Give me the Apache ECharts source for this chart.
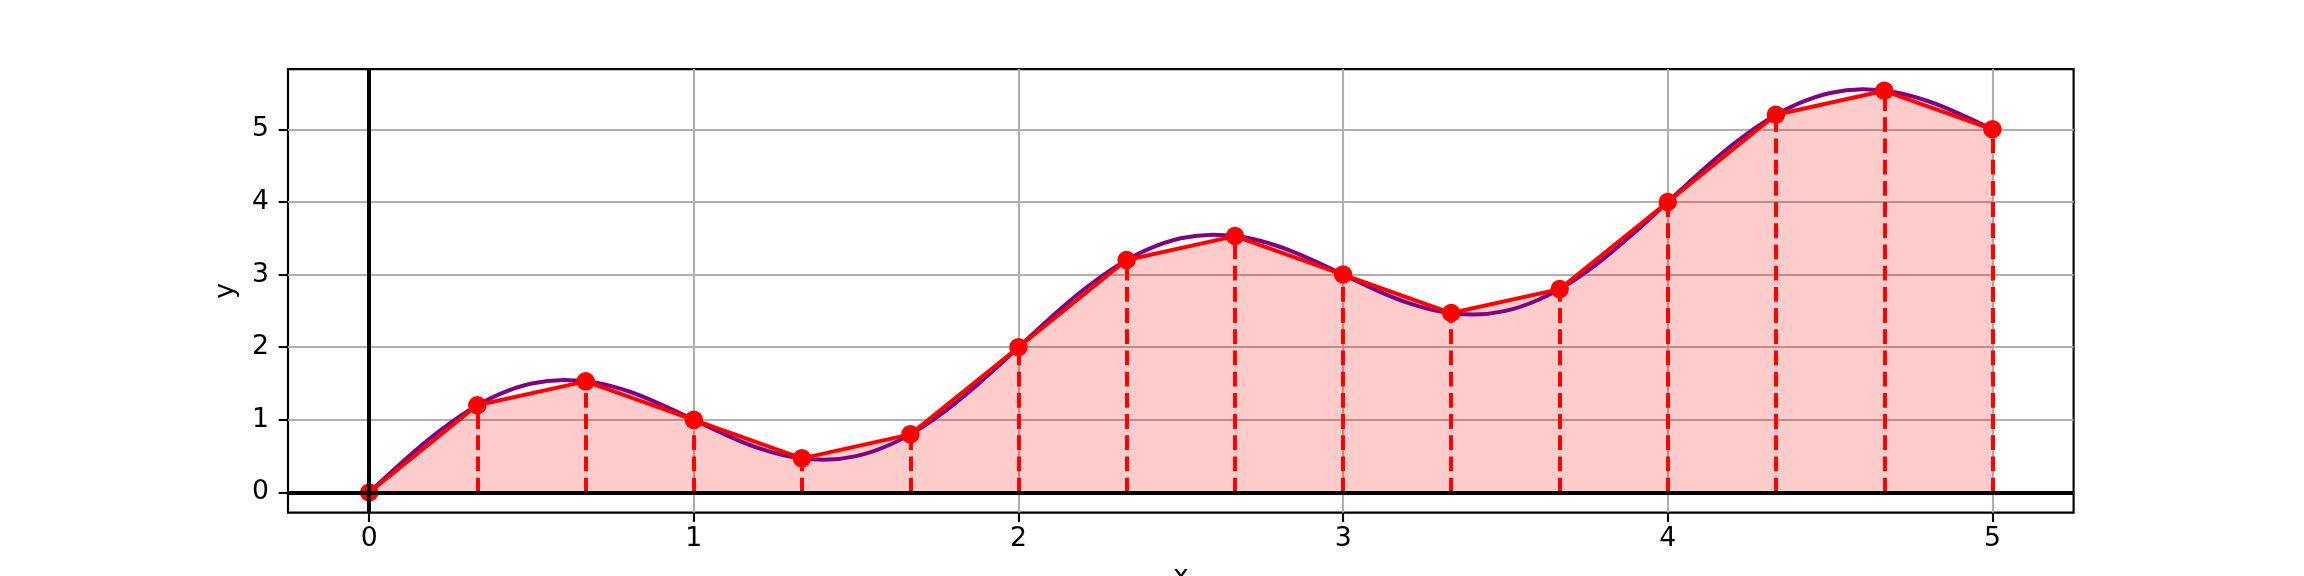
<!DOCTYPE html>
<html>
<head>
<meta charset="utf-8">
<script src="https://cdn.jsdelivr.net/npm/echarts@6/dist/echarts.min.js"></script>
<style>
html,body{margin:0;padding:0;background:#fff;}
#chart{width:2304px;height:576px;}
</style>
</head>
<body>
<div id="chart"></div>
<script>
// Sample points (red markers)
const sampleX = [0, 0.333, 0.667, 1, 1.333, 1.667, 2, 2.333, 2.667, 3, 3.333, 3.667, 4, 4.333, 4.667, 5];
const sampleY = [0, 1.2, 1.53, 1.0, 0.47, 0.8, 2.0, 3.2, 3.53, 3.0, 2.47, 2.8, 4.0, 5.2, 5.53, 5.0];

// Smooth purple curve
const curveX = [0, 0.1, 0.2, 0.3, 0.4, 0.5, 0.6, 0.7, 0.8, 0.9,
  1, 1.1, 1.2, 1.3, 1.4, 1.5, 1.6, 1.7, 1.8, 1.9,
  2, 2.1, 2.2, 2.3, 2.4, 2.5, 2.6, 2.7, 2.8, 2.9,
  3, 3.1, 3.2, 3.3, 3.4, 3.5, 3.6, 3.7, 3.8, 3.9,
  4, 4.1, 4.2, 4.3, 4.4, 4.5, 4.6, 4.7, 4.8, 4.9, 5];
const curveY = [0, 0.41, 0.79, 1.11, 1.35, 1.5, 1.55, 1.51, 1.39, 1.21,
  1.0, 0.79, 0.61, 0.49, 0.45, 0.5, 0.65, 0.89, 1.21, 1.59,
  2.0, 2.41, 2.79, 3.11, 3.35, 3.5, 3.55, 3.51, 3.39, 3.21,
  3.0, 2.79, 2.61, 2.49, 2.45, 2.5, 2.65, 2.89, 3.21, 3.59,
  4.0, 4.41, 4.79, 5.11, 5.35, 5.5, 5.55, 5.51, 5.39, 5.21, 5.0];

const xTicks = [0, 1, 2, 3, 4, 5];
const yTicks = [0, 1, 2, 3, 4, 5];

const FONT = 'DejaVu Sans';
const FS = 26.67;
const LW = 4.0;
const THIN = 2.13;

const samplePts = sampleX.map((x, i) => [x, sampleY[i]]);
const curvePts = curveX.map((x, i) => [x, curveY[i]]);

const chart = echarts.init(document.getElementById('chart'), null, {renderer: 'canvas'});
chart.setOption({
  animation: false,
  backgroundColor: '#fff',
  grid: {
    left: 288, right: 230.4, top: 69.12, bottom: 63.36,
    containLabel: false, outerBoundsMode: 'none',
    show: true, borderColor: '#000', borderWidth: THIN, backgroundColor: 'transparent'
  },
  xAxis: {
    type: 'value', min: -0.25, max: 5.25,
    name: 'x', nameLocation: 'middle', nameGap: 51,
    nameTextStyle: {fontFamily: FONT, fontSize: FS, color: '#000'},
    axisLine: {show: false, onZero: false},
    axisTick: {show: true, customValues: xTicks, length: 9.33, lineStyle: {color: '#000', width: THIN}},
    axisLabel: {customValues: xTicks, fontFamily: FONT, fontSize: FS, color: '#000', margin: 13},
    splitLine: {show: true, lineStyle: {color: '#b0b0b0', width: THIN}}
  },
  yAxis: {
    type: 'value', min: -0.2776, max: 5.8287,
    name: 'y', nameLocation: 'middle', nameGap: 48,
    nameTextStyle: {fontFamily: FONT, fontSize: FS, color: '#000'},
    axisLine: {show: false, onZero: false},
    axisTick: {show: true, customValues: yTicks, length: 9.33, lineStyle: {color: '#000', width: THIN}},
    axisLabel: {customValues: yTicks, fontFamily: FONT, fontSize: FS, color: '#000', margin: 19},
    splitLine: {show: true, lineStyle: {color: '#b0b0b0', width: THIN}}
  },
  series: [
    {
      type: 'line', data: samplePts, z: 1, silent: true,
      showSymbol: false, symbol: 'none',
      lineStyle: {width: 0, opacity: 0},
      areaStyle: {color: 'rgba(255,0,0,0.2)', opacity: 1, origin: 0}
    },
    {
      type: 'line', data: curvePts, z: 2, silent: true,
      showSymbol: false, symbol: 'none', smooth: 0.4,
      lineStyle: {color: '#800080', width: LW}
    },
    {
      type: 'line', data: samplePts, z: 3, silent: true,
      symbol: 'circle', symbolSize: 18.5, showAllSymbol: true,
      itemStyle: {color: '#ff0000'},
      lineStyle: {color: '#ff0000', width: LW},
      markLine: {
        silent: true, symbol: 'none', z: 4, animation: false,
        label: {show: false},
        lineStyle: {color: '#ff0000', width: LW, type: [14.8, 6.4]},
        emphasis: {disabled: true},
        data: samplePts.map(p => [{coord: [p[0], 0]}, {coord: [p[0], p[1]]}])
      }
    },
    {
      type: 'line', data: [], z: 10, silent: true,
      markLine: {
        silent: true, symbol: 'none', z: 10, animation: false,
        label: {show: false},
        lineStyle: {color: '#000', width: LW, type: 'solid'},
        emphasis: {disabled: true},
        data: [{xAxis: 0}, {yAxis: 0}]
      }
    }
  ]
});
</script>
</body>
</html>
